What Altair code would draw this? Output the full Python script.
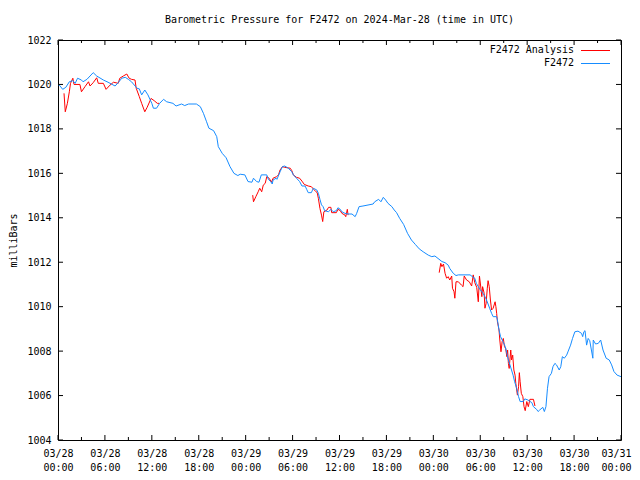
import json
import altair as alt
import pandas as pd

# ---------------- data ----------------
title_text = "Barometric Pressure for F2472 on 2024-Mar-28 (time in UTC)"
y_title = "milliBars"
legend_labels = ["F2472 Analysis", "F2472"]
series_colors = ["#ff0000", "#168cff"]

# x: hours since 2024-03-28 00:00 UTC
x_major = [0, 6, 12, 18, 24, 30, 36, 42, 48, 54, 60, 66, 72]
x_minor = [3, 9, 15, 21, 27, 33, 39, 45, 51, 57, 63, 69]
x_tick_dates = ["03/28", "03/28", "03/28", "03/28", "03/29", "03/29", "03/29",
                "03/29", "03/30", "03/30", "03/30", "03/30", "03/31"]
x_tick_times = ["00:00", "06:00", "12:00", "18:00", "00:00", "06:00", "12:00",
                "18:00", "00:00", "06:00", "12:00", "18:00", "00:00"]
y_ticks = [1004, 1006, 1008, 1010, 1012, 1014, 1016, 1018, 1020, 1022]

blue_hours = [0.0, 0.17, 0.6, 1.0, 1.45, 1.9, 2.2, 2.5, 3.0, 3.2, 3.7, 4.1, 4.5, 4.95, 5.8, 6.4,
              7.3, 7.7, 8.15, 8.6, 9.0, 9.4, 10.1, 10.4, 10.7, 11.1, 11.5, 12.0, 12.2, 12.6, 13.0,
              13.5, 13.9, 14.7, 15.1, 15.8, 16.2, 16.7, 17.7, 18.2, 18.6, 19.0, 19.3, 19.9, 20.3,
              20.5, 21.0, 21.5, 22.0, 22.5, 23.0, 23.3, 23.9, 24.3, 24.8, 25.0, 25.4, 25.7, 26.0,
              26.7, 26.9, 27.2, 27.4, 27.5, 27.9, 28.0, 28.4, 28.7, 29.0, 29.45, 29.9, 30.1, 30.5,
              30.9, 31.2, 31.6, 31.8, 32.0, 32.4, 32.65, 33.1, 33.3, 33.5, 33.7, 33.9, 34.1, 34.6,
              34.9, 35.2, 35.6, 35.8, 36.1, 36.3, 36.7, 37.1, 37.6, 38.0, 38.2, 38.5, 39.0, 40.3,
              40.5, 41.0, 41.3, 41.6, 41.9, 42.2, 42.7, 43.0, 43.3, 43.7, 44.2, 44.7, 45.2, 45.7,
              46.2, 46.7, 47.35, 47.8, 48.2, 48.6, 49.1, 49.5, 49.9, 50.1, 50.55, 50.9, 51.2, 52.7,
              53.0, 53.3, 53.5, 53.75, 53.95, 54.3, 54.6, 54.8, 55.0, 55.2, 55.45, 55.65, 56.1,
              56.2, 56.4, 56.6, 56.9, 57.2, 57.4, 57.6, 57.8, 58.0, 58.2, 58.4, 58.65, 58.9, 59.1,
              59.5, 59.7, 60.1, 60.6, 60.8, 61.2, 61.4, 61.6, 62.0, 62.2, 62.4, 62.6, 62.8, 63.1,
              63.3, 63.55, 63.75, 64.1, 64.3, 64.5, 64.75, 65.05, 65.25, 65.55, 65.8, 66.1, 66.5,
              66.95, 67.1, 67.25, 67.4, 67.6, 67.8, 68.0, 68.4, 68.45, 68.75, 69.1, 69.4, 69.7,
              70.1, 70.5, 70.8, 71.1, 71.5, 72.0]
blue_mb = [1020.0, 1019.97, 1019.78, 1019.87, 1020.12, 1020.17, 1020.05, 1020.28, 1020.2, 1020.12,
           1020.23, 1020.38, 1020.53, 1020.38, 1020.2, 1020.1, 1019.93, 1020.08, 1020.28, 1020.32,
           1020.23, 1020.12, 1019.83, 1019.8, 1019.53, 1019.75, 1019.53, 1019.15, 1018.93,
           1018.93, 1019.15, 1019.33, 1019.22, 1019.15, 1019.03, 1019.12, 1019.05, 1019.12,
           1019.12, 1019.0, 1018.7, 1018.32, 1018.03, 1017.92, 1017.65, 1017.2, 1016.9, 1016.7,
           1016.3, 1016.0, 1015.9, 1015.96, 1015.93, 1015.63, 1015.6, 1015.78, 1015.63, 1015.6,
           1015.93, 1015.93, 1015.73, 1015.63, 1015.52, 1015.7, 1015.78, 1015.73, 1016.07,
           1016.3, 1016.33, 1016.23, 1016.07, 1015.93, 1015.78, 1015.63, 1015.43, 1015.43,
           1015.28, 1015.13, 1015.13, 1015.33, 1015.25, 1015.1, 1014.83, 1014.58, 1014.5,
           1014.32, 1014.27, 1014.38, 1014.27, 1014.32, 1014.45, 1014.38, 1014.27, 1014.2,
           1014.17, 1014.17, 1014.05, 1014.2, 1014.5, 1014.53, 1014.62, 1014.72, 1014.83,
           1014.72, 1014.92, 1014.8, 1014.65, 1014.5, 1014.35, 1014.23, 1013.97, 1013.7, 1013.3,
           1013.0, 1012.8, 1012.6, 1012.47, 1012.32, 1012.25, 1012.28, 1012.17, 1012.03,
           1011.98, 1011.87, 1011.72, 1011.5, 1011.4, 1011.43, 1011.43, 1011.35, 1011.28,
           1011.05, 1010.9, 1010.78, 1010.63, 1010.45, 1010.3, 1010.12, 1009.93, 1009.7,
           1009.55, 1009.55, 1009.4, 1008.95, 1008.65, 1008.43, 1008.2, 1007.9, 1007.6, 1007.38,
           1007.15, 1006.92, 1006.62, 1006.33, 1005.95, 1005.73, 1005.73, 1005.85, 1005.8,
           1005.68, 1005.5, 1005.38, 1005.28, 1005.35, 1005.47, 1005.28, 1005.5, 1006.33,
           1006.85, 1007.0, 1007.3, 1007.45, 1007.38, 1007.15, 1007.3, 1007.75, 1007.68,
           1007.82, 1008.0, 1008.27, 1008.57, 1008.87, 1008.9, 1008.8, 1008.65, 1008.87,
           1008.92, 1008.27, 1008.57, 1008.47, 1007.68, 1008.5, 1008.32, 1008.35, 1008.5,
           1008.05, 1007.68, 1007.6, 1007.38, 1007.08, 1006.92, 1006.85]

red_hours_1 = [0.77, 0.93, 1.2, 1.45, 1.6, 1.9, 2.05, 2.8, 3.0, 3.45, 3.9, 4.1, 4.5, 4.95, 5.15,
               5.8, 6.15, 6.65, 7.1, 7.7, 7.9, 8.35, 8.8, 9.1, 9.4, 9.85, 10.0, 10.4, 10.7, 11.1,
               11.4, 11.9, 12.3, 12.7, 12.95]
red_mb_1 = [1019.6, 1018.77, 1019.15, 1019.67, 1020.05, 1020.28, 1020.0, 1020.0, 1019.67, 1019.9,
            1020.12, 1019.93, 1020.08, 1020.3, 1020.05, 1020.05, 1019.78, 1019.97, 1020.1,
            1020.05, 1020.28, 1020.38, 1020.47, 1020.28, 1020.23, 1020.2, 1019.83, 1019.45,
            1019.15, 1018.77, 1018.97, 1019.37, 1019.27, 1019.15, 1019.15]
red_hours_2 = [24.9, 25.0, 25.3, 25.6, 25.8, 26.05, 26.25, 26.5, 26.7, 27.0, 27.3, 27.5, 27.95,
               28.2, 28.4, 28.7, 29.0, 29.7, 29.9, 30.1, 30.5, 30.9, 31.2, 31.5, 32.0, 32.4, 32.7,
               33.0, 33.15, 33.3, 33.5, 33.7, 33.85, 34.0, 34.4, 34.6, 34.9, 35.0, 35.6, 35.8,
               36.1, 36.3, 36.7, 36.8, 37.0, 37.1]
red_mb_2 = [1015.02, 1014.72, 1014.95, 1015.17, 1015.33, 1015.17, 1015.47, 1015.55, 1015.85,
            1015.78, 1015.6, 1015.78, 1015.85, 1015.93, 1016.15, 1016.3, 1016.27, 1016.23,
            1016.12, 1015.93, 1015.82, 1015.78, 1015.65, 1015.5, 1015.43, 1015.4, 1015.28,
            1015.17, 1015.13, 1014.87, 1014.42, 1014.12, 1013.83, 1014.27, 1014.35, 1014.47,
            1014.47, 1014.23, 1014.23, 1014.38, 1014.32, 1014.2, 1014.12, 1014.05, 1014.38,
            1014.12]
red_hours_3 = [48.75, 48.95, 49.1, 49.3, 49.5, 49.7, 49.9, 50.1, 50.35, 50.45, 50.65, 50.75, 50.9,
               51.2, 51.6, 51.8, 51.95, 52.25, 52.6, 52.9, 53.1, 53.3, 53.55, 53.75, 53.9, 54.05,
               54.2, 54.3, 54.5, 54.6, 54.75, 54.9, 55.0, 55.15, 55.3, 55.45, 55.65, 55.9, 56.0,
               56.1, 56.2, 56.4, 56.5, 56.65, 56.8, 56.95, 57.1, 57.25, 57.4, 57.5, 57.6, 57.7,
               57.9, 58.0, 58.15, 58.3, 58.45, 58.55, 58.75, 58.9, 59.0, 59.1, 59.25, 59.45, 59.6,
               59.75, 59.95, 60.15, 60.35, 60.8, 61.0]
red_mb_3 = [1011.53, 1011.95, 1011.8, 1011.92, 1011.5, 1011.28, 1011.35, 1011.2, 1011.38, 1010.83,
            1010.67, 1010.38, 1011.12, 1011.12, 1010.97, 1010.9, 1011.38, 1011.2, 1011.12,
            1010.93, 1011.43, 1011.08, 1010.87, 1010.22, 1011.38, 1010.93, 1010.45, 1010.9,
            1010.6, 1009.93, 1010.15, 1010.83, 1011.17, 1010.9, 1010.3, 1009.85, 1009.93,
            1010.22, 1010.0, 1009.7, 1009.32, 1008.95, 1008.5, 1007.97, 1008.43, 1008.57, 1008.2,
            1008.12, 1007.75, 1008.05, 1007.45, 1007.22, 1008.05, 1007.6, 1007.82, 1007.15,
            1006.92, 1006.55, 1006.02, 1006.4, 1007.03, 1006.62, 1006.1, 1005.95, 1005.5,
            1005.32, 1005.73, 1005.5, 1005.83, 1005.83, 1005.53]

# ---------------- tables ----------------
blue_df = pd.DataFrame({"hour": blue_hours, "mb": blue_mb})
red_df = pd.concat([
    pd.DataFrame({"hour": h, "mb": v, "seg": i})
    for i, (h, v) in enumerate([(red_hours_1, red_mb_1), (red_hours_2, red_mb_2),
                                (red_hours_3, red_mb_3)])
], ignore_index=True)
xmaj_df = pd.DataFrame({"hour": x_major})
xmin_df = pd.DataFrame({"hour": x_minor})
ytick_df = pd.DataFrame({"mb": y_ticks})

FONT = "DejaVu Sans Mono"
W, H = 563, 400

label_pairs = [[d, t] for d, t in zip(x_tick_dates, x_tick_times)]
label_expr = json.dumps(label_pairs) + "[round(datum.value / 6)]"

xscale = alt.Scale(domain=[0, 72], nice=False, zero=False)
yscale = alt.Scale(domain=[1004, 1022], nice=False, zero=False)

x_axis = alt.Axis(values=x_major, labelExpr=label_expr, ticks=False, tickSize=0, domain=False,
                  grid=False, labelPadding=8, labelLineHeight=14, labelFont=FONT,
                  labelFontSize=10, labelColor="black", labelFlush=False, labelOverlap=False,
                  labelOffset={"condition": {"test": "datum.value >= 72", "value": -5},
                               "value": 0})
y_axis = alt.Axis(values=y_ticks, format="d", ticks=False, tickSize=0, domain=False, grid=False,
                  labelPadding=7, labelFont=FONT, labelFontSize=10, labelColor="black",
                  labelFlush=False, titleFont=FONT, titleFontSize=10, titleFontWeight="normal",
                  titleColor="black", titlePadding=8)

X = lambda: alt.X("hour:Q", scale=xscale, title=None)
Y = lambda: alt.Y("mb:Q", scale=yscale, title=y_title)

red = alt.Chart(red_df).mark_line(strokeWidth=1, clip=True).encode(
    x=alt.X("hour:Q", scale=xscale, title=None, axis=x_axis),
    y=alt.Y("mb:Q", scale=yscale, title=y_title, axis=y_axis),
    detail="seg:N",
    color=alt.value(series_colors[0]),
)
blue = alt.Chart(blue_df).mark_line(strokeWidth=1, clip=True).encode(
    x=X(), y=Y(), color=alt.value(series_colors[1])
)

tick_layers = [
    alt.Chart(xmaj_df).mark_rule(color="black").encode(x=X(), y=alt.value(H), y2=alt.value(H - 5)),
    alt.Chart(xmaj_df).mark_rule(color="black").encode(x=X(), y=alt.value(0), y2=alt.value(5)),
    alt.Chart(xmin_df).mark_rule(color="black").encode(x=X(), y=alt.value(H), y2=alt.value(H - 3)),
    alt.Chart(xmin_df).mark_rule(color="black").encode(x=X(), y=alt.value(0), y2=alt.value(3)),
    alt.Chart(ytick_df).mark_rule(color="black").encode(y=Y(), x=alt.value(0), x2=alt.value(5)),
    alt.Chart(ytick_df).mark_rule(color="black").encode(y=Y(), x=alt.value(W), x2=alt.value(W - 5)),
]

legend_layers = []
for i, (lab, col) in enumerate(zip(legend_labels, series_colors)):
    ly = 10 + 13 * i
    one = pd.DataFrame({"label": [lab]})
    legend_layers.append(
        alt.Chart(one).mark_text(align="right", baseline="middle", font=FONT, fontSize=10).encode(
            x=alt.value(516), y=alt.value(ly), text="label:N", color=alt.value("black"))
    )
    legend_layers.append(
        alt.Chart(one).mark_rule(strokeWidth=1).encode(
            x=alt.value(523), x2=alt.value(552), y=alt.value(ly + 0.5),
            color=alt.value(col))
    )

chart = alt.layer(red, blue, *tick_layers, *legend_layers).properties(
    width=W,
    height=H,
    title=alt.TitleParams(title_text, font=FONT, fontSize=10, fontWeight="normal",
                          color="black", anchor="middle", offset=10),
    padding={"left": 50, "top": 32, "right": 11, "bottom": 32},
    autosize=alt.AutoSizeParams(type="none"),
).configure_view(stroke="black", strokeWidth=1)

chart.save("out.html", embed_options={"renderer": "svg", "actions": False})
